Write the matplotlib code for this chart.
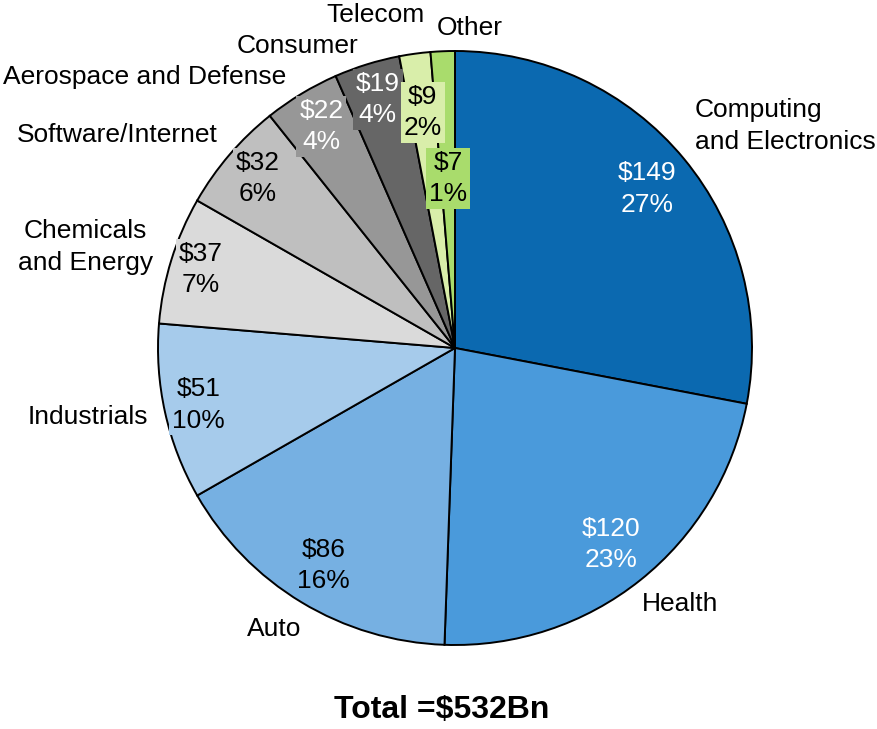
import numpy as np
import matplotlib
matplotlib.use("Agg")
from matplotlib import pyplot as plt

plt.rcParams["font.family"] = ["Liberation Sans", "DejaVu Sans"]

# market size by sector, $Bn
sectors = ["Computing\nand Electronics", "Health", "Auto", "Industrials",
           "Chemicals\nand Energy", "Software/Internet", "Aerospace and Defense",
           "Consumer", "Telecom", "Other"]
values = [149, 120, 86, 51, 37, 32, 22, 19, 9, 7]
shares = [27, 23, 16, 10, 7, 6, 4, 4, 2, 1]
total = 532

colors = ["#0B69B0", "#4A9ADB", "#76B0E2", "#A6CBEB", "#DADADA",
          "#BFBFBF", "#979797", "#666666", "#D9EEAA", "#A9DC6C"]
value_colors = ["white", "white", "black", "black", "black",
                "black", "white", "white", "black", "black"]

# where the value labels sit, as a fraction of the radius
inner_r = [0.84, 0.845, 0.855, 0.885, 0.895, 0.875, 0.87, 0.875, 0.80, 0.57]
# sector name positions: (distance in px from centre, angle in degrees)
outer_pos = [(398, 33.9), (341, -48.6), (334, -122.8), (373, -169.4),
             (383, 164.7), (399, 147.8), (412, 138.8), (341, 117.6),
             (342, 103.5), (320, 87.3)]

W, H = 878, 729
fig = plt.figure(figsize=(W / 100, H / 100), dpi=100)
ax = fig.add_axes([0, 0, 1, 1])

cx, cy, R = 455, H - 348, 297
wedges, _ = ax.pie(values, colors=colors, startangle=90, counterclock=False,
                   center=(cx, cy), radius=R, frame=True,
                   wedgeprops=dict(edgecolor="black", linewidth=1.4))
ax.set_xlim(0, W)
ax.set_ylim(0, H)
ax.axis("off")

for i, w in enumerate(wedges):
    mid = np.deg2rad((w.theta1 + w.theta2) / 2)
    r = inner_r[i] * R
    ax.text(cx + r * np.cos(mid), cy + r * np.sin(mid),
            f"${values[i]}\n{shares[i]}%", ha="center", va="center",
            fontsize=19, color=value_colors[i], linespacing=1.38,
            bbox=dict(facecolor=colors[i], edgecolor="none", pad=2))

    d, ang = outer_pos[i]
    a = np.deg2rad(ang)
    ma = "left" if i == 0 else "center"
    ax.text(cx + d * np.cos(a), cy + d * np.sin(a), sectors[i],
            ha="center", va="center", multialignment=ma,
            fontsize=19, color="black", linespacing=1.38)

ax.text(442, H - 710, f"Total =${total}Bn", ha="center", va="center",
        fontsize=23, fontweight="bold")

fig.savefig("out.png", dpi=100)
